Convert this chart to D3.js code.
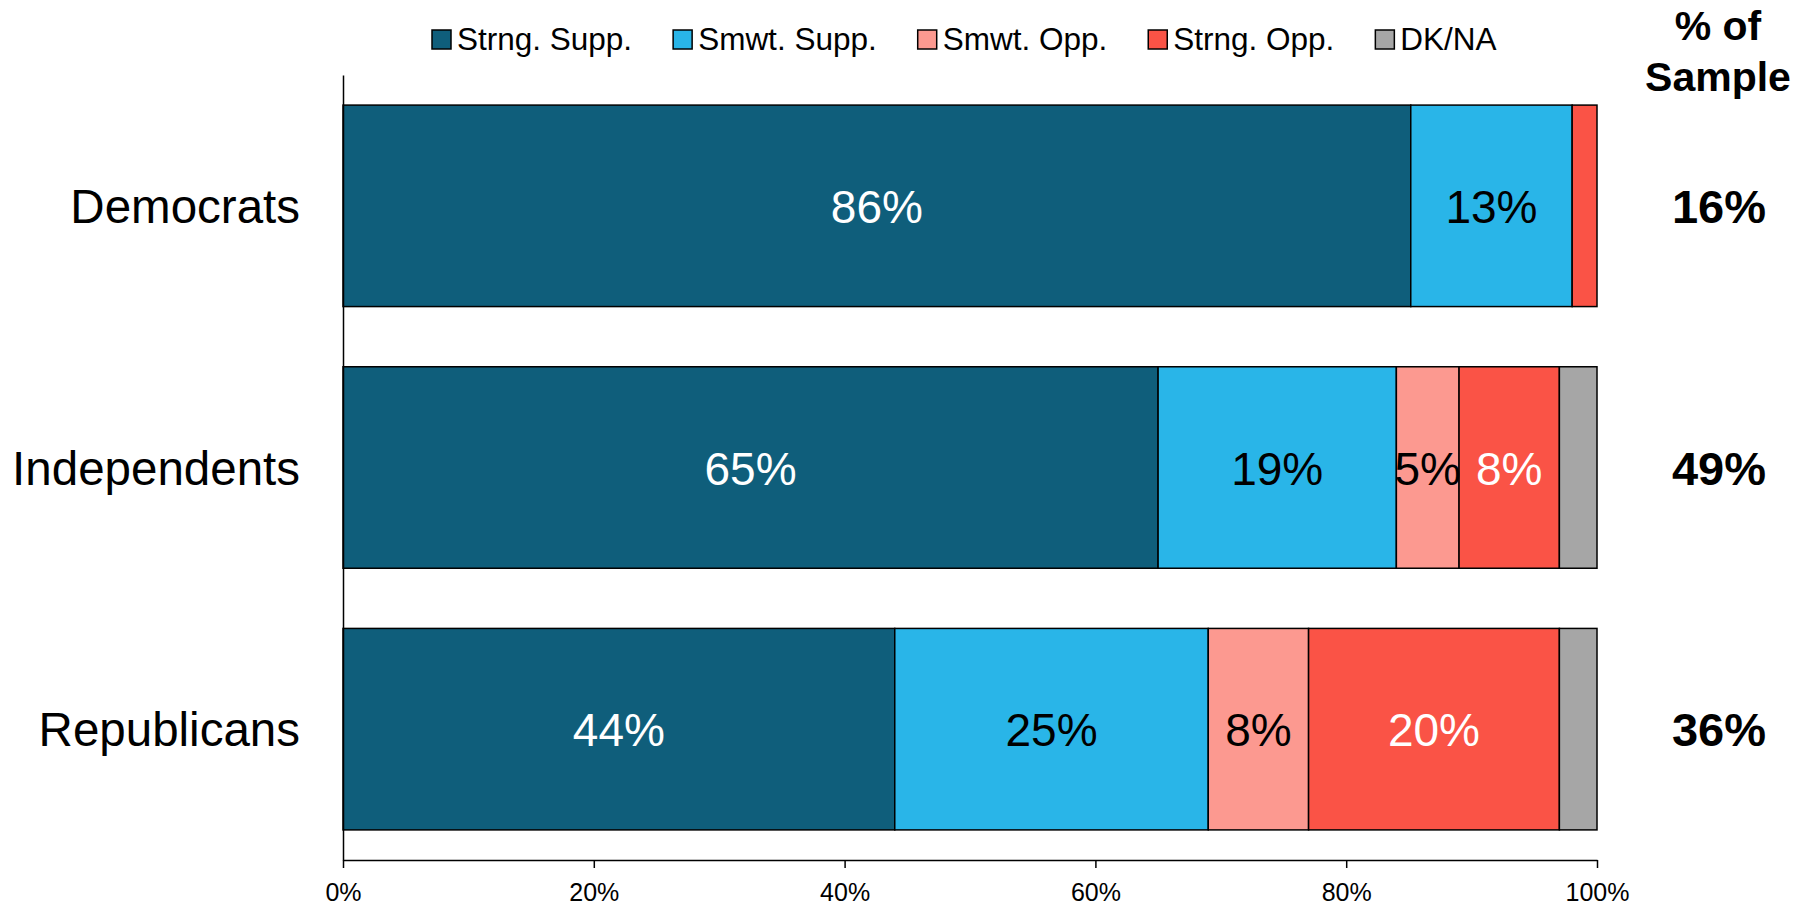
<!DOCTYPE html>
<html>
<head>
<meta charset="utf-8">
<script src="https://cdn.jsdelivr.net/npm/d3@7"></script>
<style>
  body { margin: 0; background: #fff; }
  svg { display: block; font-family: 'Liberation Sans', Arial, sans-serif; }
</style>
</head>
<body>
<main></main>
<script>
const groups = ['Democrats', 'Independents', 'Republicans'];
const seriesNames = ['Strng. Supp.', 'Smwt. Supp.', 'Smwt. Opp.', 'Strng. Opp.', 'DK/NA'];
const seriesColors = ['#0f5e7b', '#29b5e8', '#fc9990', '#fa5346', '#a6a6a6'];
const labelColors = ['#ffffff', '#000000', '#000000', '#ffffff', '#000000'];
const strngSupp = [86, 65, 44];
const smwtSupp = [13, 19, 25];
const smwtOpp = [0, 5, 8];
const strngOpp = [2, 8, 20];
const dkna = [0, 3, 3];
const sampleShare = ['16%', '49%', '36%'];
const xTicks = [0, 0.2, 0.4, 0.6, 0.8, 1];

const chartWidth = 1808;
const chartHeight = 906;
const plotLeft = 343;
const plotRight = 1597;
const plotTop = 75;
const plotBottom = 860;

const rows = groups.map((g, i) => {
  const row = { group: g };
  const vals = [strngSupp[i], smwtSupp[i], smwtOpp[i], strngOpp[i], dkna[i]];
  const total = d3.sum(vals);
  seriesNames.forEach((s, j) => { row[s] = vals[j] / total; row[s + '_raw'] = vals[j]; });
  return row;
});

const stacked = d3.stack().keys(seriesNames)(rows);

const xScale = d3.scaleLinear().domain([0, 1]).range([plotLeft, plotRight]);
const yScale = d3.scaleBand().domain(groups).range([plotTop, plotBottom])
  .paddingInner(0.23).paddingOuter(0.115);

const svg = d3.select('main').append('svg')
  .attr('width', chartWidth)
  .attr('height', chartHeight);

// bars
const layer = svg.selectAll('.layer')
  .data(stacked)
  .enter()
  .append('g')
  .attr('class', 'layer')
  .attr('fill', (d, i) => seriesColors[i]);

layer.selectAll('rect')
  .data(d => d.filter(p => p[1] - p[0] > 0))
  .enter()
  .append('rect')
  .attr('x', d => xScale(d[0]))
  .attr('y', d => yScale(d.data.group))
  .attr('width', d => xScale(d[1]) - xScale(d[0]))
  .attr('height', yScale.bandwidth())
  .attr('stroke', '#000')
  .attr('stroke-width', 1.5);

// bar labels
stacked.forEach((s, i) => {
  svg.append('g')
    .selectAll('text')
    .data(s.filter(p => p.data[s.key + '_raw'] >= 5))
    .enter()
    .append('text')
    .attr('x', d => (xScale(d[0]) + xScale(d[1])) / 2)
    .attr('y', d => yScale(d.data.group) + yScale.bandwidth() / 2 + 17)
    .attr('text-anchor', 'middle')
    .style('font-size', '46px')
    .style('fill', labelColors[i])
    .text(d => d.data[s.key + '_raw'] + '%');
});

// x-axis
const xAxis = d3.axisBottom(xScale)
  .tickValues(xTicks)
  .tickFormat(d3.format('.0%'))
  .tickSize(8)
  .tickSizeOuter(0);

const gx = svg.append('g')
  .attr('transform', `translate(0, ${plotBottom})`)
  .call(xAxis);
gx.select('.domain').attr('stroke', '#000').attr('stroke-width', 1.5);
gx.selectAll('.tick line').attr('stroke', '#000').attr('stroke-width', 1.5);
gx.selectAll('.tick text')
  .attr('y', 41)
  .attr('dy', 0)
  .style('font-size', '25px')
  .style('font-family', "'Liberation Sans', Arial, sans-serif")
  .style('fill', '#000');

// y-axis
const yAxis = d3.axisLeft(yScale).tickSize(0).tickPadding(43);
const gy = svg.append('g')
  .attr('transform', `translate(${plotLeft}, 0)`)
  .call(yAxis);
gy.select('.domain').attr('stroke', '#000').attr('stroke-width', 1.5);
gy.selectAll('.tick text')
  .attr('dy', 17)
  .style('font-size', '47.5px')
  .style('font-family', "'Liberation Sans', Arial, sans-serif")
  .style('fill', '#000');

// % of sample
svg.append('g')
  .selectAll('text')
  .data(groups)
  .enter()
  .append('text')
  .attr('x', 1719)
  .attr('y', (d) => yScale(d) + yScale.bandwidth() / 2 + 17)
  .attr('text-anchor', 'middle')
  .style('font-size', '47px')
  .style('font-weight', 'bold')
  .text((d, i) => sampleShare[i]);

const header = svg.append('text')
  .attr('x', 1718)
  .attr('text-anchor', 'middle')
  .style('font-size', '41px')
  .style('font-weight', 'bold');
header.append('tspan').attr('x', 1718).attr('y', 40).text('% of');
header.append('tspan').attr('x', 1718).attr('y', 91).text('Sample');

// Legend
const legend = svg.append('g').attr('transform', 'translate(432, 50)');
let lx = 0;
seriesNames.forEach((name, i) => {
  legend.append('rect')
    .attr('x', lx)
    .attr('y', -20)
    .attr('width', 19)
    .attr('height', 19)
    .attr('fill', seriesColors[i])
    .attr('stroke', '#000')
    .attr('stroke-width', 1.5);
  const t = legend.append('text')
    .attr('x', lx + 25)
    .attr('y', 0)
    .style('font-size', '31.5px')
    .text(name);
  lx += 25 + t.node().getComputedTextLength() + 41;
});
</script>
</body>
</html>
